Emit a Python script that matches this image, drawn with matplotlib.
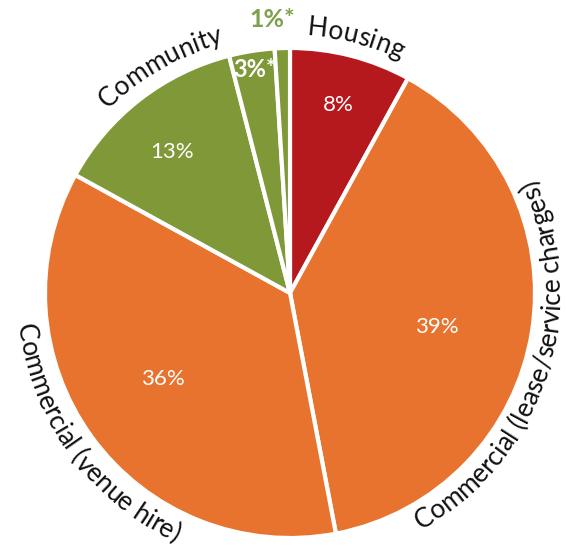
import numpy as np
import matplotlib
matplotlib.use("Agg")
import matplotlib.pyplot as plt
from matplotlib.font_manager import FontProperties, findfont, get_font
from matplotlib.ft2font import LoadFlags

# ---- data ----
categories = ["Housing", "Commercial (lease/service charges)",
              "Commercial (venue hire)", "Community", "", ""]
values = [8, 39, 36, 13, 3, 1]
pct_labels = ["8%", "39%", "36%", "13%", "3%*", "1%*"]
colors = ["#B5191E", "#E8732E", "#E8732E", "#7F9838", "#7F9838", "#7F9838"]

W, H = 566, 547
DPI = 100
fig = plt.figure(figsize=(W / DPI, H / DPI), dpi=DPI)
ax = fig.add_axes([0, 0, 1, 1])
cx, cy, R = 290, H - 293, 245

wedges, _ = ax.pie(values, colors=colors, startangle=90, counterclock=False,
                   center=(cx, cy), radius=R, frame=True,
                   wedgeprops=dict(edgecolor="white", linewidth=3))
ax.set_xlim(0, W)
ax.set_ylim(0, H)
ax.set_aspect("equal")
ax.axis("off")

FAM = ["Lato", "DejaVu Sans"]


def advances(s, fp):
    font = get_font(findfont(fp))
    font.set_size(fp.get_size_in_points(), DPI)
    out = []
    for ch in s:
        g = font.load_char(ord(ch), flags=LoadFlags.NO_HINTING)
        out.append(g.linearHoriAdvance / 65536)
    return out


def curved(s, theta_c, r, fp, color, clockwise=True):
    adv = advances(s, fp)
    L = sum(adv)
    pos = 0.0
    for ch, a in zip(s, adv):
        d = pos + a / 2
        pos += a
        if ch == " ":
            continue
        off = (d - L / 2) / r
        if clockwise:
            th = np.radians(theta_c) - off
            rot = np.degrees(th) - 90
        else:
            th = np.radians(theta_c) + off
            rot = np.degrees(th) + 90
        ax.text(cx + r * np.cos(th), cy + r * np.sin(th), ch, rotation=rot,
                rotation_mode="anchor", ha="center", va="baseline",
                fontproperties=fp, color=color)


mids = [(w.theta1 + w.theta2) / 2 for w in wedges]

lab_fp = FontProperties(family=FAM, size=19)
# (angle offset from slice middle, baseline radius, clockwise)
lab_style = [(0, 258, True), (-9, 270, False), (0, 275, False), (-8, 259, True)]
for i, (dth, rr, cw) in enumerate(lab_style):
    curved(categories[i], mids[i] + dth, rr, lab_fp, "#111111", clockwise=cw)

# percentage labels
pct_style = [(0, 194, "white", "normal", 16),
             (-4, 151, "white", "normal", 16),
             (-2, 153, "white", "normal", 16),
             (2, 184, "white", "normal", 16),
             (0, 226, "white", "bold", 17),
             (2, 274, "#7EA04A", "bold", 18)]
for i, (dth, rr, col, wt, fs) in enumerate(pct_style):
    th = np.radians(mids[i] + dth)
    ax.text(cx + rr * np.cos(th), cy + rr * np.sin(th), pct_labels[i],
            ha="center", va="center", color=col, fontweight=wt,
            fontsize=fs, family=FAM)

fig.savefig("out.png", dpi=DPI)
